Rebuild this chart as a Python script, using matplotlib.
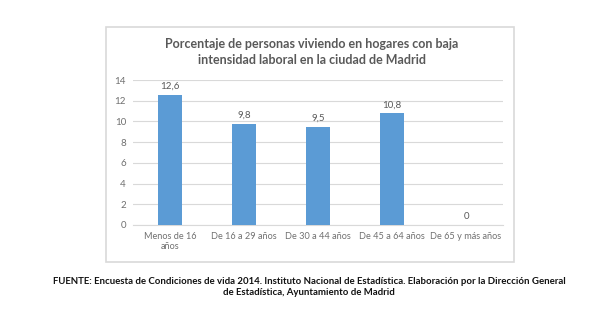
import matplotlib
matplotlib.use("Agg")
import matplotlib.pyplot as plt
from matplotlib.patches import Rectangle

plt.rcParams['font.family'] = ['Lato', 'DejaVu Sans']

categories = ['Menos de 16\naños', 'De 16 a 29 años', 'De 30 a 44 años',
              'De 45 a 64 años', 'De 65 y más años']
values = [12.6, 9.8, 9.5, 10.8, 0]
value_labels = ['12,6', '9,8', '9,5', '10,8', '0']
yticks = [0, 2, 4, 6, 8, 10, 12, 14]

W, H = 601, 325
fig = plt.figure(figsize=(W / 100, H / 100), dpi=100)

# chart frame
fig.patches.append(Rectangle((106 / W, 1 - 262 / H), (514 - 106) / W, (262 - 27) / H,
                             transform=fig.transFigure, fill=False,
                             edgecolor='#d9d9d9', linewidth=1.2))

ax = fig.add_axes([133 / W, 1 - 225 / H, (503 - 133) / W, (225 - 80) / H])
x = range(len(categories))
ax.bar(x, values, width=0.32, color='#5b9bd5', zorder=3)
for xi, v, lab in zip(x, values, value_labels):
    ax.text(xi, v + 0.35, lab, ha='center', va='bottom', fontsize=7, color='#595959')

ax.set_ylim(0, 14)
ax.set_xlim(-0.5, len(categories) - 0.5)
ax.set_yticks(yticks)
ax.set_yticklabels([str(t) for t in yticks], fontsize=7, color='#707070')
ax.set_xticks(list(x))
ax.set_xticklabels(categories, fontsize=6.6, color='#707070')
ax.tick_params(length=0, pad=5)
ax.grid(axis='y', color='#d9d9d9', linewidth=0.8, zorder=0)
for s in ['top', 'right', 'left']:
    ax.spines[s].set_visible(False)
ax.spines['bottom'].set_color('#d9d9d9')

fig.text(312 / W, 1 - 52 / H,
         'Porcentaje de personas viviendo en hogares con baja\nintensidad laboral en la ciudad de Madrid',
         ha='center', va='center', fontsize=9, color='#595959', fontweight='bold',
         linespacing=1.35)

fig.text(309 / W, 1 - 287 / H,
         'FUENTE: Encuesta de Condiciones de vida 2014. Instituto Nacional de Estadística. Elaboración por la Dirección General\nde Estadística, Ayuntamiento de Madrid',
         ha='center', va='center', fontsize=6.9, color='#111111', fontweight='bold',
         linespacing=1.4)

fig.savefig('out.png', dpi=100)
